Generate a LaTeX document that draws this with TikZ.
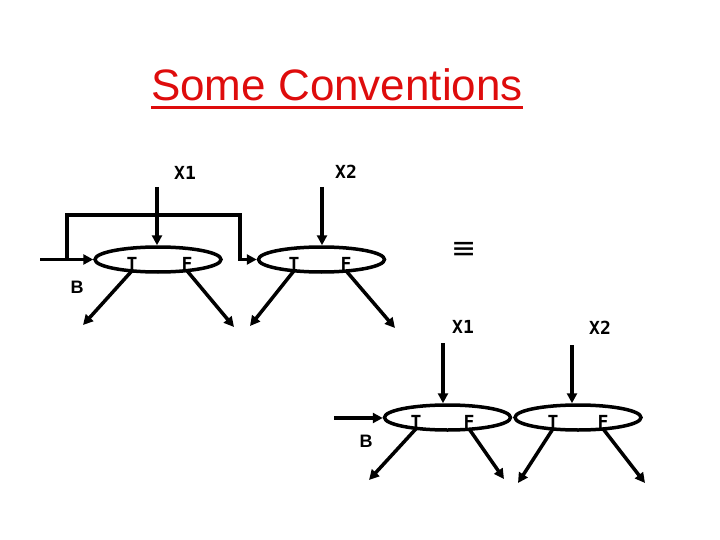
\documentclass[tikz,border=0pt]{standalone}
\usepackage{fontspec}
\setmainfont{Liberation Sans}
\newfontfamily\labelfont{DejaVu Sans Mono}
\newfontfamily\symfont{DejaVu Sans}
\usetikzlibrary{shapes.geometric,arrows.meta}
\definecolor{titlered}{RGB}{222,12,12}

\begin{document}
\begin{tikzpicture}[x=1pt,y=-1pt,
	wire/.style={line width=3.5pt},
	arr/.style={wire,-{Triangle[length=10pt,width=10pt]}},
	test/.style={draw,ellipse,line width=3.5pt,minimum width=126pt,minimum height=25pt,inner sep=0pt},
	lbl/.style={font=\labelfont\bfseries\fontsize{18}{18}\selectfont,inner sep=0pt}]
	\useasboundingbox (0,0) rectangle (720,540);

	\node[font=\fontsize{44}{44}\selectfont,text=titlered,inner sep=0pt,anchor=base] (title) at (337,101) {Some Conventions};
	\draw[titlered,line width=3pt] ([yshift=-7pt]title.base west) -- ([yshift=-7pt]title.base east);

	% chained form
	\node[test] (e1) at (158,259.5) {};
	\node[test] (e2) at (321.5,259.5) {};
	\node[lbl] (t1) at (132,264) {T};
	\node[lbl] (f1) at (187,264) {F};
	\node[lbl] (t2) at (294,264) {T};
	\node[lbl] (f2) at (346,264) {F};
	\node[lbl] (x1) at (185,173) {X1};
	\node[lbl] (x2) at (346,172) {X2};
	\node[font=\bfseries\fontsize{18}{18}\selectfont,inner sep=0pt] (b1) at (77,287) {B};
	\node[font=\symfont\fontsize{30}{30}\selectfont,inner sep=0pt] (eq) at (464,250) {≡};

	\coordinate (in1) at (40,259.5);
	\coordinate (split) at (67,259.5);
	\coordinate (turn) at (240,215);
	\coordinate (x1in) at (157,187);
	\coordinate (x2in) at (322,187);
	\coordinate (t1out) at (83,325);
	\coordinate (f1out) at (234,327);
	\coordinate (t2out) at (250,326);
	\coordinate (f2out) at (395,328);

	\draw[arr] (in1) -- (e1.west);
	\draw[arr] (split) |- (turn) |- (e2.west);
	\draw[arr] (x1in) -- (x1in |- e1.north);
	\draw[arr] (x2in) -- (x2in |- e2.north);
	\draw[arr] (t1.south) -- (t1out);
	\draw[arr] (f1.south) -- (f1out);
	\draw[arr] (t2.south) -- (t2out);
	\draw[arr] (f2.south) -- (f2out);

	% separate form
	\node[test] (e3) at (447.5,417.5) {};
	\node[test] (e4) at (578,417.5) {};
	\node[lbl] (t3) at (416,422) {T};
	\node[lbl] (f3) at (469,422) {F};
	\node[lbl] (t4) at (553,422) {T};
	\node[lbl] (f4) at (603,422) {F};
	\node[lbl] (x3) at (463,327) {X1};
	\node[lbl] (x4) at (600,328) {X2};
	\node[font=\bfseries\fontsize{18}{18}\selectfont,inner sep=0pt] (b3) at (366,441) {B};

	\coordinate (in3) at (334,418);
	\coordinate (x3in) at (443,343);
	\coordinate (x4in) at (572,345);
	\coordinate (t3out) at (369,480);
	\coordinate (f3out) at (504,479);
	\coordinate (t4out) at (518,483);
	\coordinate (f4out) at (645,483);

	\draw[arr] (in3) -- (in3 -| e3.west);
	\draw[arr] (x3in) -- (x3in |- e3.north);
	\draw[arr] (x4in) -- (x4in |- e4.north);
	\draw[arr] (t3.south) -- (t3out);
	\draw[arr] (f3.south) -- (f3out);
	\draw[arr] (t4.south) -- (t4out);
	\draw[arr] (f4.south) -- (f4out);
\end{tikzpicture}
\end{document}
